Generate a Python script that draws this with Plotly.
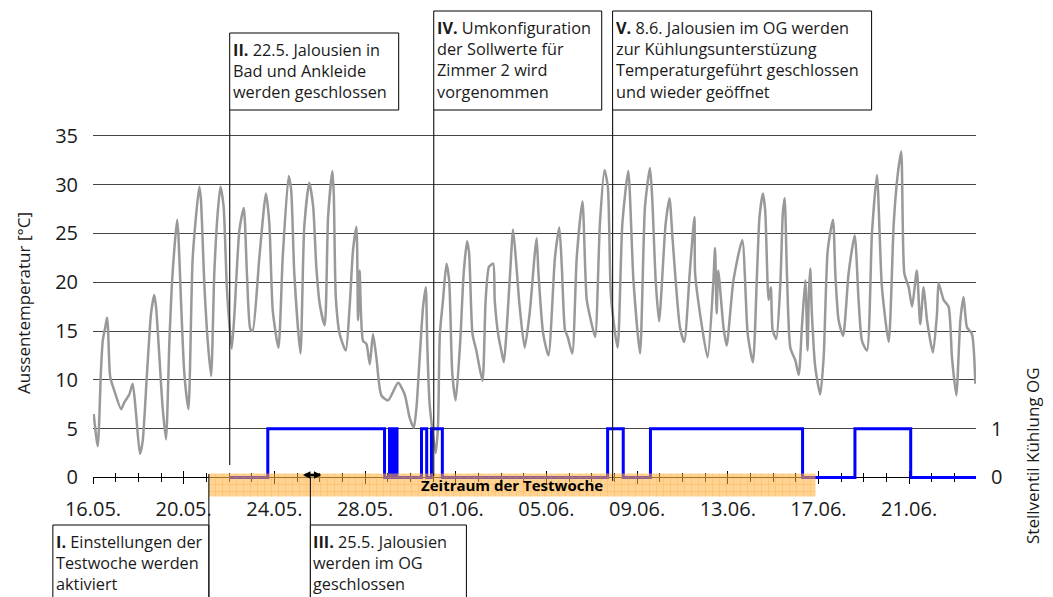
import pandas as pd
import plotly.graph_objects as go

START = pd.Timestamp("2011-05-16")
X_SPAN = 38.95  # Tage auf der x-Achse
DAY_MS = 86400000

# Aussentemperatur (Tage seit 16.05., °C)
temp_tage = [
    0.03, 0.21, 0.35, 0.43, 0.55, 0.62, 0.66, 0.76, 0.94, 1.24, 1.38, 1.60, 1.75, 1.90,
    2.07, 2.19, 2.38, 2.56, 2.70, 2.78, 2.93, 3.07, 3.22, 3.37, 3.51, 3.71, 3.77, 3.88,
    4.03, 4.21, 4.40, 4.69, 4.76, 4.91, 5.06, 5.21, 5.35, 5.50, 5.62, 5.76, 5.91, 6.12,
    6.24, 6.46, 6.65, 6.79, 6.94, 7.04, 7.34, 7.63, 7.78, 7.93, 8.18, 8.37, 8.63, 8.74,
    8.88, 9.15, 9.32, 9.54, 9.71, 9.85, 10.00, 10.22, 10.37, 10.56, 10.62, 10.71, 10.88,
    11.15, 11.32, 11.47, 11.62, 11.69, 11.76, 11.91, 12.06, 12.21, 12.35, 12.50, 12.72,
    13.02, 13.46, 13.75, 13.97, 14.15, 14.27, 14.41, 14.56, 14.68, 14.74, 14.85, 15.12,
    15.22, 15.30, 15.44, 15.59, 15.71, 15.85, 16.00, 16.20, 16.35, 16.50, 16.59, 16.74,
    16.91, 17.18, 17.32, 17.47, 17.65, 17.72, 17.87, 18.01, 18.12, 18.38, 18.53, 18.68,
    18.82, 19.04, 19.26, 19.49, 19.57, 19.65, 19.86, 20.09, 20.38, 20.57, 20.68, 20.82,
    20.94, 21.14, 21.34, 21.59, 21.78, 22.00, 22.15, 22.36, 22.56, 22.71, 22.85, 23.14,
    23.35, 23.61, 23.84, 24.13, 24.35, 24.57, 24.67, 24.82, 24.97, 25.26, 25.43, 25.57,
    25.89, 26.08, 26.33, 26.53, 26.56, 26.82, 27.11, 27.36, 27.44, 27.51, 27.58, 27.81,
    27.95, 28.25, 28.64, 28.88, 29.11, 29.29, 29.40, 29.55, 29.65, 29.80, 29.90, 29.98,
    30.14, 30.32, 30.43, 30.51, 30.61, 30.76, 30.98, 31.13, 31.27, 31.42, 31.52, 31.58,
    31.64, 31.71, 31.86, 32.08, 32.23, 32.41, 32.64, 32.75, 32.89, 33.09, 33.33, 33.60,
    33.77, 33.92, 34.14, 34.36, 34.58, 34.80, 35.10, 35.32, 35.49, 35.65, 35.79, 35.98,
    36.13, 36.34, 36.49, 36.64, 36.79, 37.05, 37.23, 37.30, 37.52, 37.74, 37.89, 38.08,
    38.26, 38.40, 38.55, 38.77, 38.92,
]
temp_werte = [
    6.5, 3.2, 10.9, 14.0, 15.5, 16.4, 15.4, 10.3, 8.9, 7.0, 7.7, 8.5, 9.6, 6.5,
    2.4, 3.7, 10.6, 16.8, 18.7, 17.5, 12.3, 7.2, 3.9, 14.0, 20.9, 26.4, 24.7, 18.2,
    10.6, 7.0, 22.6, 29.8, 28.5, 19.9, 14.0, 10.4, 20.9, 27.1, 29.8, 27.8, 19.2, 13.2,
    16.8, 25.4, 27.6, 20.9, 15.2, 15.0, 22.6, 29.1, 26.0, 17.1, 13.3, 22.6, 30.9, 29.5,
    20.9, 12.7, 25.7, 30.2, 27.8, 21.6, 17.8, 15.6, 26.7, 31.4, 29.1, 18.5, 14.7,
    13.0, 17.5, 23.3, 25.7, 16.1, 21.2, 14.0, 13.7, 11.6, 14.7, 12.3, 8.4,
    7.9, 9.7, 8.5, 6.1, 5.1, 7.2, 12.3, 17.5, 19.5, 14.0, 7.5, 2.5,
    5.4, 14.7, 18.2, 21.9, 20.2, 10.6, 7.9, 14.0, 20.9, 24.2, 23.0, 14.7,
    13.0, 9.9, 18.2, 21.6, 21.9, 18.2, 14.7, 13.0, 11.8, 20.2, 25.4, 21.6,
    17.5, 13.3, 16.8, 23.0, 24.5, 20.9, 14.7, 12.5, 22.6, 25.6, 21.6, 15.1,
    14.4, 12.7, 22.6, 28.3, 18.2, 15.7, 14.4, 26.0, 31.5, 29.8, 18.5, 13.3,
    26.0, 31.4, 20.2, 12.7, 27.8, 31.7, 28.5, 20.2, 16.0, 26.0, 28.6, 24.3,
    15.4, 13.9, 21.2, 26.7, 20.9, 16.1, 12.3, 19.9, 23.5, 16.8, 21.2, 15.4,
    13.5, 20.2, 24.3, 14.7, 11.8, 20.9, 26.7, 29.1, 27.4, 18.2, 19.5, 15.1,
    14.2, 19.9, 27.1, 28.6, 20.9, 13.3, 12.0, 10.5, 15.4, 20.2, 13.0, 19.0,
    21.4, 16.8, 11.3, 8.5, 12.3, 23.3, 26.4, 20.6, 16.1, 14.5, 20.9, 24.8,
    18.2, 14.0, 13.0, 25.0, 31.0, 19.5, 13.9, 26.0, 30.9, 33.4, 20.9, 19.5,
    17.5, 21.2, 15.7, 19.5, 16.1, 12.8, 16.8, 19.9, 18.2, 17.5, 12.3, 8.4,
    16.1, 18.5, 15.4, 14.7, 9.6,
]

# Stellventil Kühlung OG (0 = zu, 1 = offen), Schaltzeitpunkte in Tagen seit 16.05.
ventil_tage = [6.03, 7.71, 12.86, 13.08, 13.14, 13.20, 13.27, 13.33, 13.41, 14.49, 14.72,
               14.93, 15.41, 22.70, 23.39, 24.59, 31.30, 33.61, 36.07, 38.95]
ventil_werte = [0, 1, 0, 1, 0, 1, 0, 1, 0, 1, 0, 1, 0, 1, 0, 1, 0, 1, 0, 0]

# Zeitraum der Testwoche (Tage seit 16.05.) und Höhe des Balkens auf der Ventilachse
testwoche_start, testwoche_ende = 5.11, 31.87
band_unten, band_oben = -0.39, 0.08

# Ereignisse (Tage seit 16.05.)
ereignis_tage = {"I": 5.11, "II": 6.03, "III": 9.59, "IV": 15.03, "V": 22.92}

y_ticks = [0, 5, 10, 15, 20, 25, 30, 35]
Y_RANGE = [-2.0, 35.5]
Y2_RANGE = [Y_RANGE[0] / 5, Y_RANGE[1] / 5]

# Seitengeometrie in Pixeln
W, H = 1053, 597
ML, MR, MT, MB = 93, 77, 131, 100
L, R, T, B = ML, W - MR, MT, H - MB


def zeit(tag):
    return START + pd.Timedelta(days=tag)


def papier_x(tag):
    return tag / X_SPAN


def px_x(p):
    return (p - L) / (R - L)


def px_y(p):
    return (B - p) / (B - T)


def breite(px):
    return px / (R - L)


FONT = "Open Sans"
TXT = "#1a1a1a"

fig = go.Figure()

fig.add_trace(go.Scatter(
    x=[zeit(t) for t in temp_tage], y=temp_werte, mode="lines",
    line=dict(color="#999999", width=2.5, shape="spline", smoothing=0.6),
    showlegend=False, hoverinfo="skip",
))

fig.add_trace(go.Scatter(
    x=[zeit(t) for t in ventil_tage], y=ventil_werte, mode="lines",
    line=dict(color="#0000ff", width=3, shape="hv"), yaxis="y2",
    showlegend=False, hoverinfo="skip",
))

fig.add_trace(go.Scatter(
    x=[zeit(testwoche_start), zeit(testwoche_ende), zeit(testwoche_ende),
       zeit(testwoche_start), zeit(testwoche_start)],
    y=[band_unten, band_unten, band_oben, band_oben, band_unten],
    mode="lines", fill="toself", line=dict(width=0),
    fillcolor="rgba(255,175,60,0.55)",
    fillpattern=dict(shape="+", fgcolor="#ff9a1a", fgopacity=0.55, size=7,
                     solidity=0.12, fillmode="overlay"),
    yaxis="y2", showlegend=False, hoverinfo="skip",
))

# zweite x-Achse nur für die nach innen zeigenden Striche
fig.add_trace(go.Scatter(x=[START], y=[None], xaxis="x2", showlegend=False,
                         hoverinfo="skip"))

x_pos = (0 - Y_RANGE[0]) / (Y_RANGE[1] - Y_RANGE[0])
x_range = [START, zeit(X_SPAN)]
common_x = dict(range=x_range, type="date", anchor="free", position=x_pos,
                tick0=START, dtick=4 * DAY_MS, showgrid=False, zeroline=False,
                layer="below traces", tickcolor="black", tickwidth=1)

fig.update_layout(
    width=W, height=H,
    margin=dict(l=ML, r=MR, t=MT, b=MB),
    paper_bgcolor="white", plot_bgcolor="white",
    font=dict(family=FONT, color=TXT),
    xaxis=dict(**common_x, showline=True, linecolor="black", linewidth=1,
               ticks="outside", ticklen=6, tickformat="%d.%m.",
               tickfont=dict(size=20, color=TXT), ticklabelstandoff=8,
               minor=dict(dtick=DAY_MS, ticks="outside", ticklen=4,
                          tickcolor="black", showgrid=False)),
    xaxis2=dict(**common_x, overlaying="x", ticks="inside", ticklen=6,
                showticklabels=False, showline=False,
                minor=dict(dtick=DAY_MS, ticks="inside", ticklen=4,
                           tickcolor="black", showgrid=False)),
    yaxis=dict(range=Y_RANGE, tickvals=y_ticks, showgrid=True, gridcolor="#444444",
               gridwidth=1, zeroline=False, showline=False, ticks="",
               tickfont=dict(size=20, color=TXT), ticklabelstandoff=14),
    yaxis2=dict(range=Y2_RANGE, tickvals=[0, 1], overlaying="y", side="right",
                showgrid=False, zeroline=False, showline=False, ticks="",
                tickfont=dict(size=20, color=TXT), ticklabelstandoff=14),
)

annotations = [
    dict(text="Aussentemperatur [°C]", xref="paper", yref="paper",
         x=px_x(23), y=px_y(303), textangle=-90, showarrow=False,
         font=dict(size=17, color=TXT), xanchor="center", yanchor="middle"),
    dict(text="Stellventil Kühlung OG", xref="paper", yref="paper",
         x=px_x(1032), y=px_y(456), textangle=-90, showarrow=False,
         font=dict(size=17, color=TXT), xanchor="center", yanchor="middle"),
    dict(text="<b>Zeitraum der Testwoche</b>", xref="x", yref="y",
         x=zeit((testwoche_start + testwoche_ende) / 2), y=-0.8,
         showarrow=False, font=dict(size=15, color="black"), borderpad=0),
    # Doppelpfeil bei III.
    dict(x=zeit(ereignis_tage["III"]), y=0.26, xref="x", yref="y", xshift=11,
         ax=-20, ay=0, axref="pixel", ayref="pixel", text="", showarrow=True,
         arrowhead=2, startarrowhead=2, arrowside="end+start", arrowsize=0.6,
         startarrowsize=0.6, arrowwidth=2.5, arrowcolor="black"),
]

shapes = []

# Kästen: (Ereignis, links/rechts vom Strich, Breite px, Oberkante px, Unterkante px, Text)
kaesten = [
    ("I", "links", 156, 525, 620,
     "<b>I.</b> Einstellungen der<br>Testwoche werden<br>aktiviert"),
    ("II", "rechts", 169, 33, 110,
     "<b>II.</b> 22.5. Jalousien in<br>Bad und Ankleide<br>werden geschlossen"),
    ("III", "rechts", 156, 525, 620,
     "<b>III.</b> 25.5. Jalousien<br>werden im OG<br>geschlossen"),
    ("IV", "rechts", 168, 11, 110,
     "<b>IV.</b> Umkonfiguration<br>der Sollwerte für<br>Zimmer 2 wird<br>vorgenommen"),
    ("V", "rechts", 259, 11, 110,
     "<b>V.</b> 8.6. Jalousien im OG werden<br>zur Kühlungsunterstüzung<br>"
     "Temperaturgeführt geschlossen<br>und wieder geöffnet"),
]
for name, seite, bpx, oben, unten, text in kaesten:
    xe = papier_x(ereignis_tage[name])
    if seite == "links":
        x0, x1 = xe - breite(bpx), xe
    else:
        x0, x1 = xe, xe + breite(bpx)
    shapes.append(dict(type="rect", xref="paper", yref="paper", x0=x0, x1=x1,
                       y0=px_y(unten), y1=px_y(oben),
                       line=dict(color="black", width=1), fillcolor="white",
                       layer="above"))
    annotations.append(dict(text=text, xref="paper", yref="paper",
                            x=x0 + breite(1), y=px_y(oben + 4), xanchor="left",
                            yanchor="top", align="left", showarrow=False,
                            font=dict(size=16.3, color=TXT)))

# senkrechte Ereignislinien (Oberkante px, Unterkante px)
linien = {"I": (474, 620), "II": (110, 465), "III": (477, 620),
          "IV": (110, 476), "V": (110, 481)}
for name, (oben, unten) in linien.items():
    xe = papier_x(ereignis_tage[name])
    shapes.append(dict(type="line", xref="paper", yref="paper", x0=xe, x1=xe,
                       y0=px_y(unten), y1=px_y(oben),
                       line=dict(color="#222222", width=1.2)))

fig.update_layout(shapes=shapes, annotations=annotations)

fig.write_html("out.html")
